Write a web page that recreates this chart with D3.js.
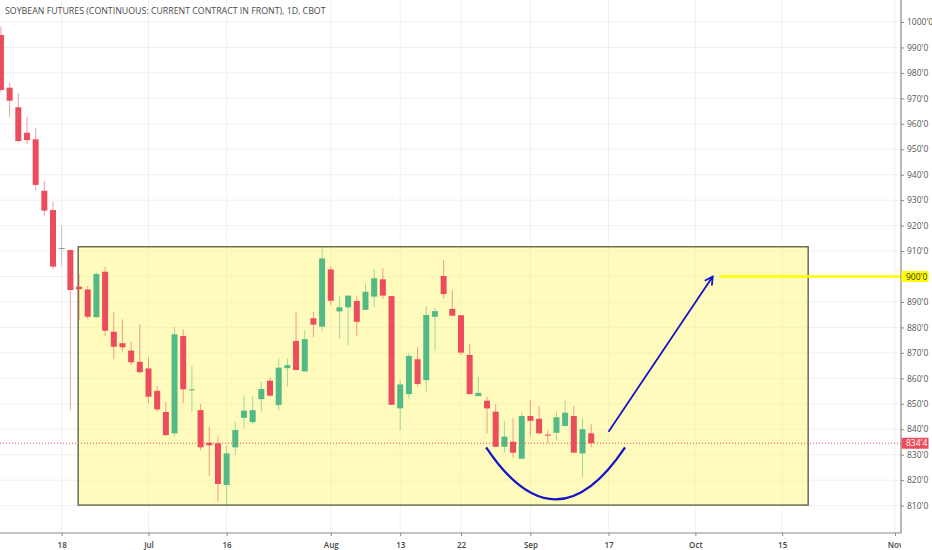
<!DOCTYPE html>
<html>
<head>
<meta charset="utf-8">
<script src="https://cdn.jsdelivr.net/npm/d3@7"></script>
<style>
  html, body { margin: 0; padding: 0; background: #fff; }
  svg { display: block; }
</style>
</head>
<body>
<svg id="chart" width="932" height="550"></svg>
<script>
// title shown in the top left corner
const chartTitle = "SOYBEAN FUTURES (CONTINUOUS: CURRENT CONTRACT IN FRONT), 1D, CBOT";

// session number of the first candle (0 = Jun 18 2018)
const firstSession = -7;

// daily prices, one entry per trading session
const openPrices = [994.9, 974.2, 966.5, 956.5, 953.9, 933.7, 926.1,
  911.2, 910.4, 896.0, 894.9, 884.0, 901.9, 878.3, 873.8, 870.9, 866.5,
  863.9, 855.1, 846.8, 838.4, 876.6, 855.5, 847.5, 834.7, 834.5, 818.1,
  832.9, 844.5, 842.8, 851.8, 859.1, 849.5, 864.0, 874.7, 862.7, 883.6,
  880.3, 902.8, 886.3, 887.9, 890.4, 886.9, 892.1, 898.9, 892.3, 848.2,
  853.8, 867.5, 859.3, 884.2, 900.2, 887.3, 884.8, 869.2, 853.0, 851.2,
  846.9, 833.1, 835.1, 828.4, 845.2, 844.1, 837.9, 838.6, 841.3, 845.2,
  830.5, 838.4];
const highPrices = [998.2, 976.2, 972.0, 962.8, 958.2, 937.6, 929.4,
  919.8, 910.6, 901.0, 896.3, 901.5, 903.9, 886.2, 883.2, 874.4, 881.3,
  868.1, 857.0, 850.6, 880.3, 879.3, 864.8, 849.9, 841.0, 837.1, 833.8,
  842.9, 853.2, 853.0, 858.7, 860.4, 867.8, 867.8, 886.2, 879.0, 886.2,
  911.7, 904.1, 892.3, 892.5, 892.3, 897.3, 902.8, 903.2, 892.3, 859.3,
  870.0, 872.2, 888.4, 887.5, 906.5, 894.7, 884.8, 873.5, 860.6, 852.8,
  849.9, 843.3, 844.3, 846.5, 851.5, 849.1, 839.5, 846.9, 851.2, 849.1,
  844.3, 842.0];
const lowPrices = [972.5, 962.6, 953.0, 952.1, 934.0, 923.9, 902.8,
  904.5, 847.5, 883.0, 883.2, 884.0, 876.6, 867.5, 870.5, 865.2, 862.0,
  850.2, 846.9, 837.3, 837.1, 850.2, 846.9, 831.8, 821.6, 811.5, 810.2,
  829.9, 840.3, 842.0, 846.9, 852.8, 847.5, 856.7, 863.0, 862.7, 876.1,
  878.3, 888.8, 875.7, 873.1, 876.6, 886.9, 887.9, 891.2, 849.6, 839.7,
  852.0, 856.7, 854.8, 870.8, 891.4, 884.6, 869.2, 853.8, 853.0, 838.4,
  833.1, 830.8, 828.6, 828.4, 837.1, 838.1, 834.5, 835.8, 841.3, 830.8,
  821.1, 832.9];
const closePrices = [973.3, 969.1, 953.2, 953.6, 936.0, 925.9, 903.9,
  911.2, 894.7, 895.0, 884.2, 901.0, 878.7, 872.4, 872.2, 866.3, 862.4,
  852.8, 847.8, 837.7, 877.3, 855.7, 855.7, 832.9, 833.7, 818.5, 830.5,
  839.7, 847.3, 847.5, 855.8, 853.2, 864.2, 865.2, 863.3, 875.4, 881.1,
  907.1, 890.5, 887.9, 892.5, 882.2, 894.0, 899.3, 892.5, 849.6, 857.6,
  868.8, 857.8, 884.9, 886.4, 893.1, 884.6, 870.1, 853.8, 854.3, 848.2,
  833.1, 837.1, 830.8, 845.2, 843.3, 838.4, 837.5, 844.7, 846.5, 830.8,
  840.0, 834.5];

// time axis: session numbers and their labels
const tickSessions = [0, 10, 19, 31, 39, 46, 54, 63, 73, 83, 96];
const tickLabels = ["18", "Jul", "16", "Aug", "13", "22", "Sep", "17", "Oct", "15", "Nov"];

// price axis ticks
const priceTicks = [810, 820, 830, 840, 850, 860, 870, 880, 890, 900,
  910, 920, 930, 940, 950, 960, 970, 980, 990, 1000];

// drawings on the chart: [session, price]
const boxCorners = [[1.9, 911.7], [86, 810.2]];
const targetPrice = 900;
const targetStart = 75.8;
const arrowFrom = [63.0, 839.0];
const arrowTo = [75.0, 900.0];
const bowlPoints = [[48.9, 832.9], [56.9, 792.0], [64.9, 832.9]];

const upColor = "#53b987";
const downColor = "#eb4d5c";
const dojiColor = "#8d9aae";
const drawBlue = "#1414c8";

const plotRight = 901;
const plotBottom = 533;

const candles = openPrices.map((o, i) => ({
  session: firstSession + i,
  open: o,
  high: highPrices[i],
  low: lowPrices[i],
  close: closePrices[i]
}));
const lastClose = closePrices[closePrices.length - 1];

const svg = d3.select("#chart");

const xScale = d3.scaleLinear().domain([0, 96]).range([61.7, 61.7 + 8.68 * 96]);
const yScale = d3.scaleLinear().domain([810, 1000]).range([505.6, 22]);

// format 834.5 as 834'4 (eighths of a cent)
function fmtPrice(p) {
  let whole = Math.floor(p);
  let eighths = Math.round((p - whole) * 8);
  return whole + "'" + eighths;
}

const defs = svg.append("defs");
defs.append("clipPath").attr("id", "plotClip")
  .append("rect").attr("x", 0).attr("y", 0).attr("width", plotRight).attr("height", plotBottom);
// axis group is translated down, so this one is in its local coordinates
defs.append("clipPath").attr("id", "axisClip")
  .append("rect").attr("x", 0).attr("y", 0).attr("width", plotRight).attr("height", 20);

const plot = svg.append("g").attr("clip-path", "url(#plotClip)");

// grid
plot.append("g").selectAll("line").data(priceTicks).join("line")
  .attr("x1", 0).attr("x2", plotRight)
  .attr("y1", d => yScale(d)).attr("y2", d => yScale(d))
  .attr("stroke", "#eef0f3").attr("stroke-width", 1);
plot.append("g").selectAll("line").data(tickSessions).join("line")
  .attr("x1", d => xScale(d)).attr("x2", d => xScale(d))
  .attr("y1", 0).attr("y2", plotBottom)
  .attr("stroke", "#eef0f3").attr("stroke-width", 1);

// the yellow range box
plot.append("rect")
  .attr("x", xScale(boxCorners[0][0]))
  .attr("y", yScale(boxCorners[0][1]))
  .attr("width", xScale(boxCorners[1][0]) - xScale(boxCorners[0][0]))
  .attr("height", yScale(boxCorners[1][1]) - yScale(boxCorners[0][1]))
  .attr("fill", "rgba(255, 247, 115, 0.47)")
  .attr("stroke", "#6e6e4e").attr("stroke-width", 1.5);

// candles
const bodyW = 6;
function candleColor(d) {
  if (d.close > d.open) return upColor;
  if (d.close < d.open) return downColor;
  return dojiColor;
}
const cg = plot.append("g").selectAll("g").data(candles).join("g");
cg.append("line")
  .attr("x1", d => xScale(d.session)).attr("x2", d => xScale(d.session))
  .attr("y1", d => yScale(d.high)).attr("y2", d => yScale(d.low))
  .attr("stroke", candleColor).attr("stroke-width", 1).attr("stroke-opacity", 0.55);
cg.append("rect")
  .attr("x", d => xScale(d.session) - bodyW / 2)
  .attr("y", d => yScale(Math.max(d.open, d.close)))
  .attr("width", bodyW)
  .attr("height", d => Math.max(1, Math.abs(yScale(d.open) - yScale(d.close))))
  .attr("fill", candleColor);

// last price dotted line
plot.append("line")
  .attr("x1", 0).attr("x2", plotRight)
  .attr("y1", yScale(lastClose)).attr("y2", yScale(lastClose))
  .attr("stroke", downColor).attr("stroke-width", 1).attr("stroke-dasharray", "1,2");

// target line at 900
plot.append("line")
  .attr("x1", xScale(targetStart)).attr("x2", plotRight)
  .attr("y1", yScale(targetPrice)).attr("y2", yScale(targetPrice))
  .attr("stroke", "#ffff00").attr("stroke-width", 2.5);

// rounded bottom
let bowl = d3.path();
bowl.moveTo(xScale(bowlPoints[0][0]), yScale(bowlPoints[0][1]));
bowl.quadraticCurveTo(xScale(bowlPoints[1][0]), yScale(bowlPoints[1][1]),
  xScale(bowlPoints[2][0]), yScale(bowlPoints[2][1]));
plot.append("path").attr("d", bowl.toString())
  .attr("fill", "none").attr("stroke", drawBlue).attr("stroke-width", 2.3);

// arrow
const ax1 = xScale(arrowFrom[0]), ay1 = yScale(arrowFrom[1]);
const ax2 = xScale(arrowTo[0]), ay2 = yScale(arrowTo[1]);
const ang = Math.atan2(ay2 - ay1, ax2 - ax1);
const headLen = 9;
let arrow = d3.path();
arrow.moveTo(ax1, ay1);
arrow.lineTo(ax2, ay2);
arrow.moveTo(ax2 - headLen * Math.cos(ang - 0.5), ay2 - headLen * Math.sin(ang - 0.5));
arrow.lineTo(ax2, ay2);
arrow.lineTo(ax2 - headLen * Math.cos(ang + 0.5), ay2 - headLen * Math.sin(ang + 0.5));
plot.append("path").attr("d", arrow.toString())
  .attr("fill", "none").attr("stroke", drawBlue).attr("stroke-width", 1.8)
  .attr("stroke-linejoin", "miter");

// price axis on the right
const yAxis = d3.axisRight(yScale).tickValues(priceTicks).tickSize(3).tickPadding(3)
  .tickFormat(fmtPrice);
const yg = svg.append("g").attr("transform", `translate(${plotRight},0)`).call(yAxis);
yg.select(".domain").remove();
yg.selectAll("text").attr("fill", "#555").style("font", "8.5px 'Open Sans', sans-serif");
yg.selectAll("line").attr("stroke", "#888");
svg.append("line").attr("x1", plotRight).attr("x2", plotRight).attr("y1", 0).attr("y2", plotBottom)
  .attr("stroke", "#888").attr("stroke-width", 1.2);

// price tags
function priceTag(price, bg, fg) {
  let g = svg.append("g").attr("transform", `translate(${plotRight},${yScale(price)})`);
  g.append("rect").attr("x", 0.5).attr("y", -5.5).attr("width", 27).attr("height", 11).attr("fill", bg);
  g.append("text").attr("x", 5).attr("y", 3).text(fmtPrice(price))
    .attr("fill", fg).style("font", "8.5px 'Open Sans', sans-serif");
}
priceTag(targetPrice, "#ffff00", "#333");
priceTag(lastClose, downColor, "#fff");

// time axis at the bottom
const xAxis = d3.axisBottom(xScale).tickValues(tickSessions).tickSize(3).tickPadding(6)
  .tickFormat((d, i) => tickLabels[i]);
const xg = svg.append("g").attr("transform", `translate(0,${plotBottom})`)
  .attr("clip-path", "url(#axisClip)")
  .call(xAxis);
xg.select(".domain").remove();
xg.selectAll("text").attr("fill", "#444")
  .style("font", "600 8px 'Open Sans', sans-serif");
xg.selectAll("line").attr("stroke", "#888");
svg.append("line").attr("x1", 0).attr("x2", plotRight).attr("y1", plotBottom).attr("y2", plotBottom)
  .attr("stroke", "#888").attr("stroke-width", 1.2);

// title
svg.append("text").attr("x", 5).attr("y", 14).text(chartTitle)
  .attr("fill", "#4a4a4a")
  .style("font", "8.8px 'Open Sans', sans-serif");
</script>
</body>
</html>
